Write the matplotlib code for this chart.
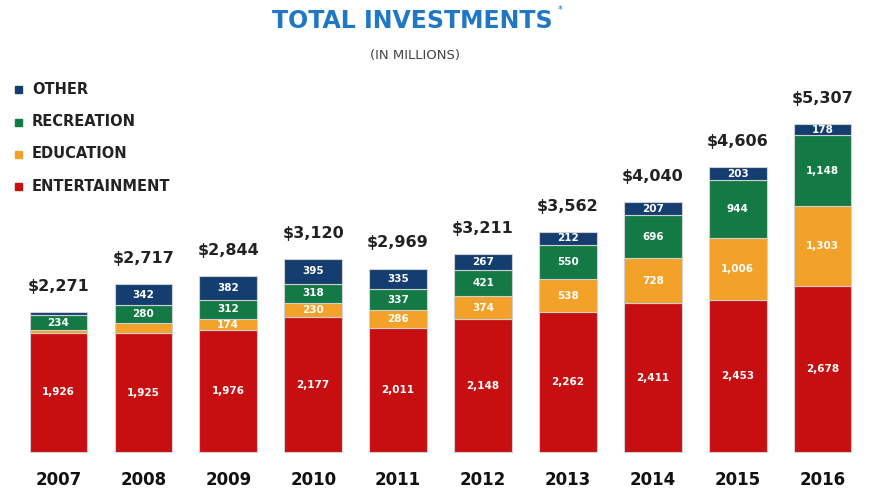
import matplotlib
matplotlib.use("Agg")
import matplotlib.pyplot as plt
import numpy as np

years = ["2007", "2008", "2009", "2010", "2011", "2012", "2013", "2014", "2015", "2016"]
entertainment = [1926, 1925, 1976, 2177, 2011, 2148, 2262, 2411, 2453, 2678]
education = [50, 170, 174, 230, 286, 374, 538, 728, 1006, 1303]
recreation = [234, 280, 312, 318, 337, 421, 550, 696, 944, 1148]
other = [61, 342, 382, 395, 335, 267, 212, 207, 203, 178]
totals = ["$2,271", "$2,717", "$2,844", "$3,120", "$2,969", "$3,211", "$3,562", "$4,040", "$4,606", "$5,307"]
show_edu = [False, False, True, True, True, True, True, True, True, True]
show_other = [False, True, True, True, True, True, True, True, True, True]

series = [
    ("ENTERTAINMENT", entertainment, "#c70f12", [True] * 10),
    ("EDUCATION", education, "#f2a228", show_edu),
    ("RECREATION", recreation, "#137a45", [True] * 10),
    ("OTHER", other, "#153e70", show_other),
]

W, H = 870, 503
fig = plt.figure(figsize=(W / 100, H / 100), dpi=100)
ax = fig.add_axes([0, 0, 1, 1])
spacing = 84.9
c0 = 58.5
base_px = 452
scale = 0.0618
ax.set_xlim(-c0 / spacing, (W - c0) / spacing)
ax.set_ylim(-(H - base_px) / scale, base_px / scale)
ax.axis("off")

x = np.arange(len(years))
bottom = np.zeros(len(years))
for name, vals, col, show in series:
    vals = np.array(vals, dtype=float)
    ax.bar(x, vals, bottom=bottom, width=0.68, color=col, edgecolor="#d0d0d0", linewidth=0.8)
    for i in range(len(years)):
        if show[i]:
            ax.text(x[i], bottom[i] + vals[i] / 2, f"{int(vals[i]):,}", ha="center", va="center",
                    color="white", fontsize=7.5, fontweight="bold")
    bottom += vals

for i in range(len(years)):
    ax.annotate(totals[i], (x[i], bottom[i]), xytext=(0, 13), textcoords="offset points",
                ha="center", va="bottom", fontsize=11.5, fontweight="bold", color="#222222")
    ax.text(x[i], -(480 - base_px) / scale, years[i], ha="center", va="center",
            fontsize=12, fontweight="bold", color="#111111")

# title
fig.text(412 / W, 1 - 21 / H, "TOTAL INVESTMENTS", ha="center", va="center",
         fontsize=17, fontweight="bold", color="#1f77c6")
fig.text(560 / W, 1 - 10 / H, "*", ha="center", va="center", fontsize=7, color="#1f77c6")
fig.text(415 / W, 1 - 55 / H, "(IN MILLIONS)", ha="center", va="center",
         fontsize=9.5, color="#444444")

# legend
leg = [("OTHER", "#153e70", 89), ("RECREATION", "#137a45", 122),
       ("EDUCATION", "#f2a228", 154), ("ENTERTAINMENT", "#c70f12", 186)]
for name, col, yp in leg:
    fig.patches.append(plt.Rectangle((15 / W, 1 - (yp + 3.5) / H), 7 / W, 7 / H,
                                     transform=fig.transFigure, color=col))
    fig.text(32 / W, 1 - yp / H, name, ha="left", va="center", fontsize=10.5,
             fontweight="bold", color="#222222")

fig.savefig("out.png", dpi=100)
